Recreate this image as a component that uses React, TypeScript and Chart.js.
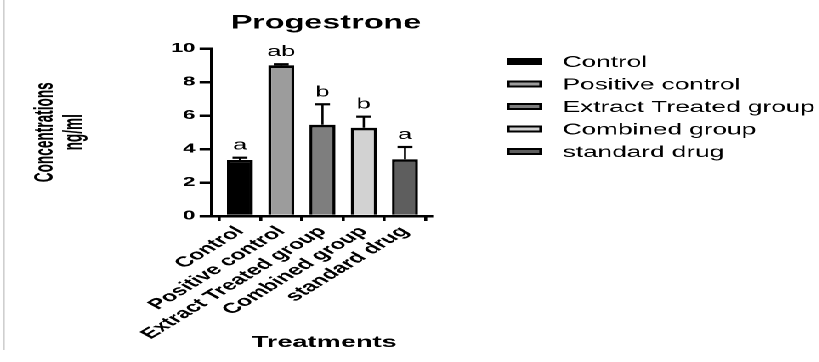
import React, { useEffect, useRef } from 'react';
import { Chart, registerables } from 'chart.js';

Chart.register(...registerables);

// ---- data ----
const categories = ['Control', 'Positive control', 'Extract Treated group', 'Combined group', 'standard drug'];
const means = [3.34, 9.0, 5.45, 5.27, 3.39];
const sems = [0.14, 0.06, 1.22, 0.66, 0.73];
const letters = ['a', 'ab', 'b', 'b', 'a'];
const barColors = ['#000000', '#9c9c9c', '#7e7e7e', '#d2d2d2', '#5e5e5e'];
const yTickValues = [0, 2, 4, 6, 8, 10];
const chartTitle = 'Progestrone';
const yTitleLines = ['Concentrations', 'ng/ml'];
const xTitle = 'Treatments';

// ---- layout (canvas drawn narrow, then stretched horizontally like the reference) ----
const SX = 1.7;
const W = 482;
const H = 362;
const FONT = '"Liberation Sans", Arial, sans-serif';
const AREA_LEFT = 124.4;
const AREA_RIGHT = 254;
const AREA_TOP = 48.5;
const AREA_BOTTOM = 216;
const X_AXIS_H = 140;

const overlay = {
  id: 'overlay',
  afterDatasetsDraw(chart: any) {
    const { ctx } = chart;
    const xs = chart.scales.x;
    const ys = chart.scales.y;
    ctx.save();
    ctx.strokeStyle = '#000';
    ctx.fillStyle = '#000';
    means.forEach((m, i) => {
      const px = xs.getPixelForValue(i);
      const yb = ys.getPixelForValue(m);
      const yt = ys.getPixelForValue(m + sems[i]);
      ctx.lineWidth = 1.3;
      ctx.beginPath();
      ctx.moveTo(px, yb);
      ctx.lineTo(px, yt);
      ctx.stroke();
      ctx.lineWidth = 2.2;
      ctx.beginPath();
      ctx.moveTo(px - 4.4, yt);
      ctx.lineTo(px + 4.4, yt);
      ctx.stroke();
      ctx.font = `15px ${FONT}`;
      ctx.textAlign = 'center';
      ctx.textBaseline = 'alphabetic';
      ctx.fillText(letters[i], px, yt - 8);
    });
    ctx.restore();
  },
  afterDraw(chart: any) {
    const { ctx } = chart;
    const area = chart.chartArea;
    const cx = (area.left + area.right) / 2;
    ctx.save();
    ctx.fillStyle = '#000';
    // title
    ctx.font = `bold 19px ${FONT}`;
    ctx.textAlign = 'center';
    ctx.textBaseline = 'alphabetic';
    ctx.fillText(chartTitle, cx + 2.5, 28.3);
    // x title
    ctx.font = `bold 16px ${FONT}`;
    ctx.fillText(xTitle, cx + 1.5, 347);
    // y title (condensed along its length)
    ctx.font = `bold 15.5px ${FONT}`;
    yTitleLines.forEach((t, i) => {
      ctx.save();
      ctx.translate(31.2 + i * 17, (area.top + area.bottom) / 2);
      ctx.rotate(-Math.PI / 2);
      ctx.scale(0.88, 1);
      ctx.fillText(t, 0, 0);
      ctx.restore();
    });
    // legend
    categories.forEach((c, i) => {
      const yc = 61.5 + i * 22.5;
      const x0 = 298;
      const w = 21;
      const h = 7;
      ctx.fillStyle = '#000';
      ctx.fillRect(x0, yc - h / 2, w, h);
      ctx.fillStyle = barColors[i];
      ctx.fillRect(x0 + 1.8, yc - h / 2 + 2, w - 3.6, h - 4);
      ctx.fillStyle = '#000';
      ctx.font = `15.4px ${FONT}`;
      ctx.textAlign = 'left';
      ctx.fillText(c, 331, yc + 5.5);
    });
    // faint frame line at left
    ctx.strokeStyle = '#cfcfcf';
    ctx.lineWidth = 1.2;
    ctx.beginPath();
    ctx.moveTo(2.2, 0);
    ctx.lineTo(2.2, 350);
    ctx.stroke();
    ctx.restore();
  },
};

export default function App() {
  const ref = useRef<HTMLCanvasElement | null>(null);
  useEffect(() => {
    document.body.style.margin = '0';
    const canvas = ref.current;
    if (!canvas) return;
    const chart = new Chart(canvas, {
      type: 'bar',
      data: {
        datasets: [
          {
            data: categories.map((_, i) => ({ x: i, y: means[i] })),
            backgroundColor: barColors,
            borderColor: '#000',
            borderWidth: { left: 1.8, right: 1.8, top: 2.7, bottom: 0 } as any,
            barPercentage: 0.63,
            categoryPercentage: 1,
          },
        ],
      },
      options: {
        animation: false,
        responsive: false,
        devicePixelRatio: 2,
        events: [],
        layout: {
          padding: { left: 0, top: AREA_TOP, right: W - AREA_RIGHT, bottom: H - AREA_BOTTOM - X_AXIS_H },
        },
        plugins: {
          legend: { display: false },
          title: { display: false },
          tooltip: { enabled: false },
        },
        scales: {
          x: {
            type: 'linear',
            min: -0.69,
            max: 4.65,
            offset: false,
            afterBuildTicks: (axis: any) => {
              axis.ticks = categories.map((_, i) => ({ value: i }));
            },
            afterFit: (axis: any) => {
              axis.height = X_AXIS_H;
            },
            ticks: {
              autoSkip: false,
              minRotation: 46,
              maxRotation: 46,
              padding: 2,
              color: '#000',
              font: { family: FONT, size: 14.5, weight: 'bold' },
              callback: (v: any) => categories[v] ?? '',
            },
            grid: {
              display: true,
              drawOnChartArea: false,
              drawTicks: true,
              tickLength: 5,
              tickWidth: 1.8,
              tickColor: '#000',
              lineWidth: 1.8,
              color: '#000',
            },
            border: { display: true, color: '#000', width: 2.5 },
          },
          y: {
            type: 'linear',
            min: 0,
            max: 10,
            afterBuildTicks: (axis: any) => {
              axis.ticks = yTickValues.map((v) => ({ value: v }));
            },
            afterFit: (axis: any) => {
              axis.width = AREA_LEFT;
            },
            ticks: {
              padding: 2.5,
              color: '#000',
              font: { family: FONT, size: 13, weight: 'bold' },
            },
            grid: {
              display: true,
              drawOnChartArea: false,
              drawTicks: true,
              tickLength: 7,
              tickWidth: 2.5,
              tickColor: '#000',
              lineWidth: 2.5,
              color: '#000',
            },
            border: { display: true, color: '#000', width: 1.6 },
          },
        },
      },
      plugins: [overlay],
    });
    return () => chart.destroy();
  }, []);

  return (
    <div
      style={{
        position: 'absolute',
        left: 0,
        top: 0,
        width: W,
        height: H,
        transform: `scaleX(${SX})`,
        transformOrigin: '0 0',
        background: '#fff',
      }}
    >
      <canvas ref={ref} width={W} height={H} style={{ width: W, height: H, display: 'block' }} />
    </div>
  );
}
